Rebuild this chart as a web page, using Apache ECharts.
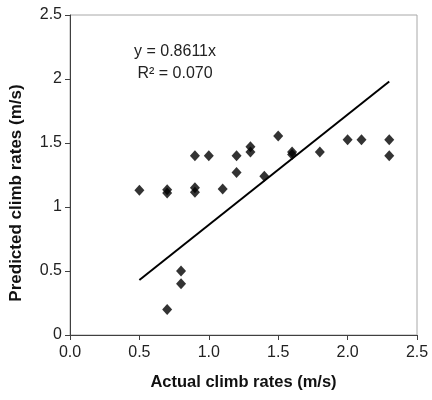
<!DOCTYPE html>
<html><head><meta charset="utf-8">
<script src="https://cdn.jsdelivr.net/npm/echarts@6/dist/echarts.min.js"></script>
<style>html,body{margin:0;padding:0;background:#fff}#c{width:432px;height:400px}</style>
</head><body><div id="c"></div>
<script>
var actualX = [0.5,0.7,0.7,0.7,0.8,0.8,0.9,0.9,0.9,1.0,1.1,1.2,1.2,1.3,1.3,1.4,1.5,1.6,1.6,1.8,2.0,2.1,2.3,2.3];
var predictedY = [1.13,1.135,1.11,0.2,0.5,0.4,1.4,1.15,1.115,1.4,1.14,1.4,1.27,1.47,1.43,1.24,1.555,1.43,1.41,1.43,1.525,1.525,1.525,1.4];
var trendX = [0.5, 2.3];
var trendY = [0.43, 1.98];
var xTicks = ['0.0','0.5','1.0','1.5','2.0','2.5'];
var yTicks = ['0','0.5','1','1.5','2','2.5'];
var equationText = 'y = 0.8611x';
var r2Text = 'R² = 0.070';

var chart = echarts.init(document.getElementById('c'));
var font = 'Liberation Sans, Arial, sans-serif';
chart.setOption({
  animation: false,
  grid: {left: 70, right: 15, top: 15, bottom: 65, show: true, borderColor: '#a8a8a8', borderWidth: 1, backgroundColor: '#fff'},
  xAxis: {
    type: 'value', min: 0, max: 2.5, interval: 0.5,
    name: 'Actual climb rates (m/s)', nameLocation: 'middle', nameGap: 39,
    nameTextStyle: {fontFamily: font, fontSize: 16.5, fontWeight: 'bold', color: '#111'},
    axisLine: {show: true, lineStyle: {color: '#404040', width: 1}},
    axisTick: {show: true, length: 5, lineStyle: {color: '#404040'}},
    axisLabel: {fontFamily: font, fontSize: 16, color: '#222', margin: 10,
      formatter: function(v){ return xTicks[Math.round(v/0.5)]; }},
    splitLine: {show: false}
  },
  yAxis: {
    type: 'value', min: 0, max: 2.5, interval: 0.5,
    name: 'Predicted climb rates (m/s)', nameLocation: 'middle', nameGap: 45, nameRotate: 90,
    nameTextStyle: {fontFamily: font, fontSize: 17, fontWeight: 'bold', color: '#111', padding: [0, 36, 0, 0]},
    axisLine: {show: true, lineStyle: {color: '#404040', width: 1}},
    axisTick: {show: true, length: 5, lineStyle: {color: '#404040'}},
    axisLabel: {fontFamily: font, fontSize: 16, color: '#222', margin: 8,
      formatter: function(v){ return yTicks[Math.round(v/0.5)]; }},
    splitLine: {show: false}
  },
  series: [
    {
      type: 'line', data: trendX.map(function(x,i){return [x, trendY[i]];}),
      showSymbol: false, symbol: 'none', lineStyle: {color: '#000', width: 2}, z: 2
    },
    {
      type: 'scatter', data: actualX.map(function(x,i){return [x, predictedY[i]];}),
      symbol: 'diamond', symbolSize: [10, 11], itemStyle: {color: '#000'}, z: 3
    }
  ],
  graphic: [
    {type: 'text', x: 175, y: 52, style: {text: equationText, fontFamily: font, fontSize: 16, fill: '#222', align: 'center', verticalAlign: 'middle'}},
    {type: 'text', x: 175, y: 74, style: {text: r2Text, fontFamily: font, fontSize: 16, fill: '#222', align: 'center', verticalAlign: 'middle'}}
  ]
});
</script></body></html>
